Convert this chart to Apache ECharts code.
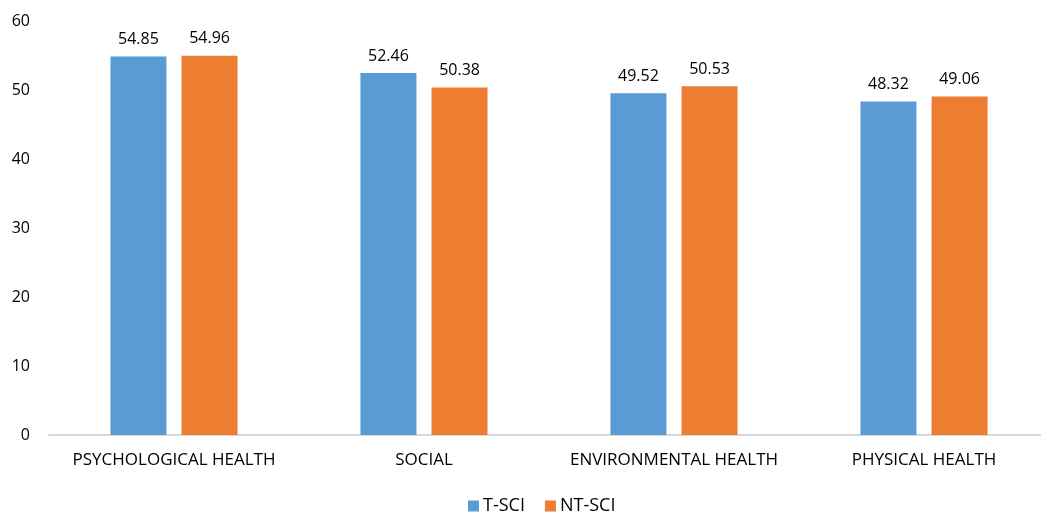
<!DOCTYPE html>
<html>
<head>
<meta charset="utf-8">
<style>
  html, body { margin: 0; padding: 0; background: #fff; }
  #chart { width: 1041px; height: 512px; }
</style>
<script src="https://cdn.jsdelivr.net/npm/echarts@6/dist/echarts.min.js"></script>
</head>
<body>
<div id="chart"></div>
<script>
var categories = ["PSYCHOLOGICAL HEALTH", "SOCIAL", "ENVIRONMENTAL HEALTH", "PHYSICAL HEALTH"];
var tsci = [54.85, 52.46, 49.52, 48.32];
var ntsci = [54.96, 50.38, 50.53, 49.06];
var seriesNames = ["T-SCI", "NT-SCI"];

var font = "'Open Sans', 'Liberation Sans', sans-serif";
var chart = echarts.init(document.getElementById('chart'));

function barSeries(name, values, color) {
  return {
    name: name,
    type: 'bar',
    data: values,
    barWidth: 56,
    barGap: '27%',
    itemStyle: { color: color },
    label: {
      show: true,
      position: 'top',
      distance: 9,
      color: '#000',
      fontFamily: font,
      fontSize: 16,
      formatter: function (p) { return p.value.toFixed(2); }
    }
  };
}

chart.setOption({
  animation: false,
  grid: { left: 49, width: 1000, top: 21, bottom: 77, outerBoundsMode: 'none', containLabel: false },
  legend: {
    data: seriesNames,
    top: 497,
    left: 468,
    padding: 0,
    itemWidth: 11,
    itemHeight: 11,
    itemGap: 20,
    icon: 'rect',
    textStyle: { color: '#000', fontFamily: font, fontSize: 18, padding: [0, 0, 0, -1] }
  },
  xAxis: {
    type: 'category',
    data: categories,
    axisLine: { lineStyle: { color: '#d9d9d9', width: 2 } },
    axisTick: { show: false },
    axisLabel: { color: '#000', fontFamily: font, fontSize: 17, margin: 17, interval: 0 }
  },
  yAxis: {
    type: 'value',
    min: 0,
    max: 60,
    interval: 10,
    splitLine: { show: false },
    axisLine: { show: false },
    axisTick: { show: false },
    axisLabel: { color: '#000', fontFamily: font, fontSize: 16, margin: 19 }
  },
  series: [
    barSeries(seriesNames[0], tsci, '#5b9bd5'),
    barSeries(seriesNames[1], ntsci, '#ed7d31')
  ]
});
</script>
</body>
</html>
